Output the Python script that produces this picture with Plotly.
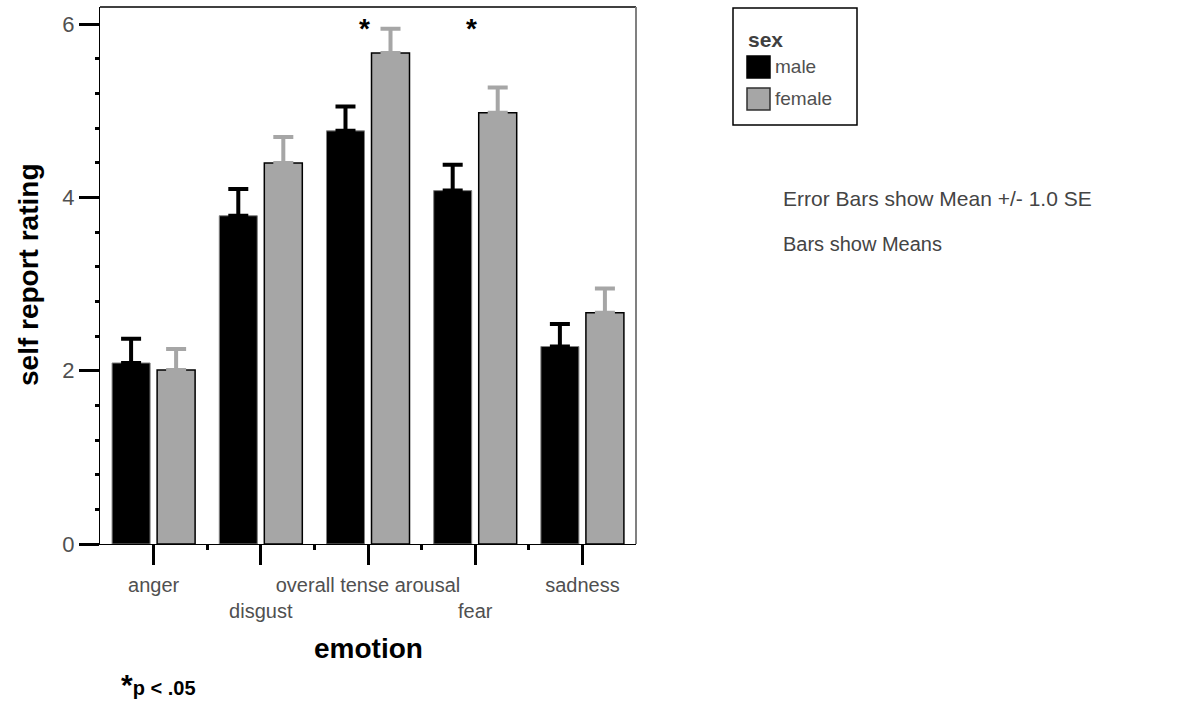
import plotly.graph_objects as go

# Mean self-report ratings by emotion and sex, with +1 SE bars
emotions = ["anger", "disgust", "overall tense arousal", "fear", "sadness"]
tick_labels = ["anger", "<br>disgust", "overall tense arousal", "<br>fear", "sadness"]
groups = ["male", "female"]
male_means = [2.09, 3.79, 4.77, 4.08, 2.28]
male_se = [0.28, 0.31, 0.28, 0.30, 0.26]
female_means = [2.01, 4.40, 5.67, 4.98, 2.67]
female_se = [0.24, 0.30, 0.28, 0.29, 0.28]
significant = ["overall tense arousal", "fear"]

FONT = "Arial, Liberation Sans, sans-serif"
GREY_BAR = "#a6a6a6"
TEXT_GREY = "#505050"

# plot area in pixels, used to place the side panel in paper units
L, R, T, B = 100, 636, 7, 544


def px(x):
    return (x - L) / (R - L)


def py(y):
    return (B - y) / (B - T)


xpos = list(range(len(emotions)))

fig = go.Figure()
fig.add_trace(go.Bar(
    x=xpos, y=male_means, name=groups[0],
    marker=dict(color="black", line=dict(color="#808080", width=1)),
    error_y=dict(type="data", array=male_se, arrayminus=[0] * len(male_se),
                 symmetric=False, color="black", thickness=4, width=10),
))
fig.add_trace(go.Bar(
    x=xpos, y=female_means, name=groups[1],
    marker=dict(color=GREY_BAR, line=dict(color="black", width=1.5)),
    error_y=dict(type="data", array=female_se, arrayminus=[0] * len(female_se),
                 symmetric=False, color=GREY_BAR, thickness=4, width=10),
))

# significance stars above the groups
for name in significant:
    i = emotions.index(name)
    fig.add_annotation(x=i - 0.03, y=6.0, xref="x", yref="y", text="<b>*</b>",
                       showarrow=False, yanchor="middle",
                       font=dict(family=FONT, size=28, color="black"), yshift=-4)

fig.update_layout(
    width=1192, height=703,
    margin=dict(l=L, r=1192 - R, t=T, b=703 - B),
    plot_bgcolor="white", paper_bgcolor="white",
    barmode="group", bargap=0.16, bargroupgap=0.156,
    font=dict(family=FONT, color=TEXT_GREY),
    showlegend=False,
)

fig.update_xaxes(
    range=[-0.5, len(emotions) - 0.5],
    tickmode="array", tickvals=xpos, ticktext=tick_labels, tickangle=0,
    ticks="outside", ticklen=20, tickwidth=3, tickcolor="black",
    tickfont=dict(size=20, color=TEXT_GREY), ticklabelstandoff=3,
    minor=dict(tickmode="array", tickvals=[i + 0.5 for i in xpos[:-1]],
               ticks="outside", ticklen=5, tickwidth=3, tickcolor="black"),
    showline=True, linecolor="black", linewidth=1,
    showgrid=False, zeroline=False,
)
fig.update_yaxes(
    range=[0, 6.2],
    tickmode="array", tickvals=[0, 2, 4, 6],
    ticks="outside", ticklen=20, tickwidth=3, tickcolor="black",
    tickfont=dict(size=22, color=TEXT_GREY),
    minor=dict(dtick=0.4, tick0=0, ticks="outside", ticklen=4, tickwidth=3,
               tickcolor="black"),
    showline=True, linecolor="black", linewidth=1,
    showgrid=False, zeroline=False,
)

# axis titles
fig.add_annotation(xref="paper", yref="paper", x=px(368), y=py(648),
                   text="<b>emotion</b>", showarrow=False,
                   xanchor="center", yanchor="middle",
                   font=dict(size=28, color="black"))
fig.add_annotation(xref="paper", yref="paper", x=px(28), y=py(275),
                   text="<b>self report rating</b>", showarrow=False, textangle=-90,
                   xanchor="center", yanchor="middle",
                   font=dict(size=28, color="black"))

# frame: black top edge, grey right edge
fig.add_shape(type="line", xref="paper", yref="paper", x0=0, x1=1, y0=1, y1=1,
              line=dict(color="black", width=1.5))
fig.add_shape(type="line", xref="paper", yref="paper", x0=1, x1=1, y0=0, y1=1,
              line=dict(color="#808080", width=2))

# legend box
fig.add_shape(type="rect", xref="paper", yref="paper",
              x0=px(733), x1=px(857), y0=py(125), y1=py(8),
              line=dict(color="black", width=1.5), fillcolor="white")
fig.add_annotation(xref="paper", yref="paper", x=px(746), y=py(40),
                   text="<b>sex</b>", showarrow=False, xanchor="left", yanchor="middle",
                   font=dict(size=21, color="#404040"))
swatches = [("black", "black", 67), (GREY_BAR, "#303030", 99)]
for name, (fill, edge, yc) in zip(groups, swatches):
    fig.add_shape(type="rect", xref="paper", yref="paper",
                  x0=px(747), x1=px(770), y0=py(yc + 11), y1=py(yc - 11),
                  line=dict(color=edge, width=1.5), fillcolor=fill)
    fig.add_annotation(xref="paper", yref="paper", x=px(773), y=py(yc - 1),
                       text=name, showarrow=False, xanchor="left", yanchor="middle",
                       font=dict(size=19, color=TEXT_GREY))

fig.add_annotation(xref="paper", yref="paper", x=px(781), y=py(198),
                   text="Error Bars show Mean +/- 1.0 SE", showarrow=False,
                   xanchor="left", yanchor="middle",
                   font=dict(size=21, color="#444444"))
fig.add_annotation(xref="paper", yref="paper", x=px(781), y=py(244),
                   text="Bars show Means", showarrow=False,
                   xanchor="left", yanchor="middle",
                   font=dict(size=20, color="#444444"))
fig.add_annotation(xref="paper", yref="paper", x=px(119), y=py(684),
                   text="<b><span style='font-size:30px'>*</span>p < .05</b>",
                   showarrow=False, xanchor="left", yanchor="middle",
                   font=dict(size=20, color="black"))

fig.write_html("out.html")
